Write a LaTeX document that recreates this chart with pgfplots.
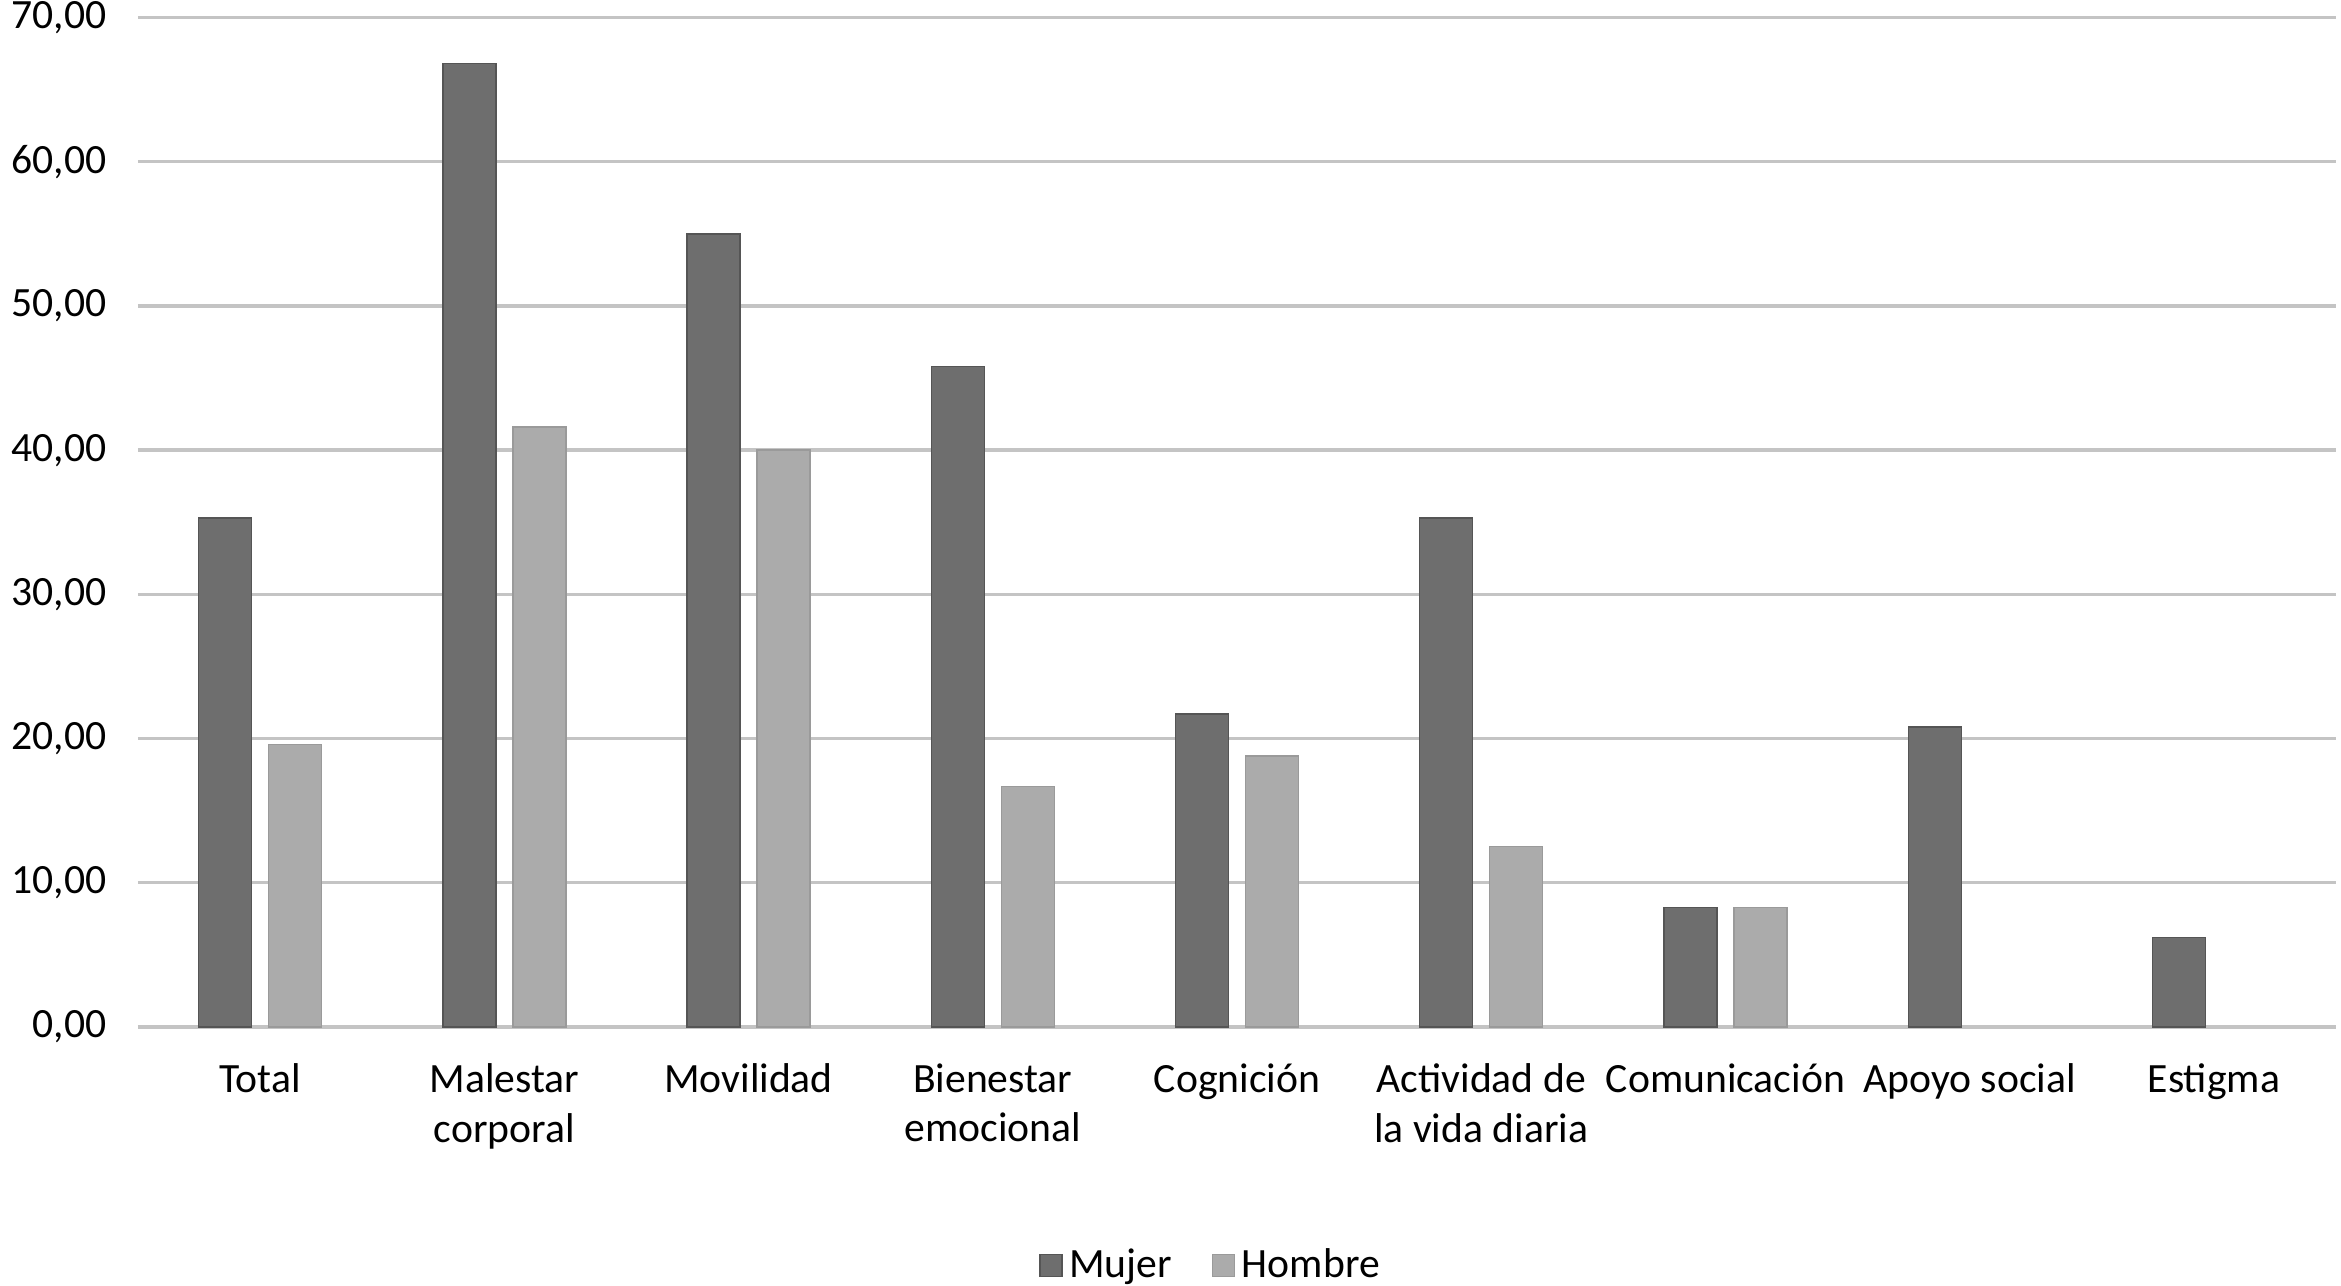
\documentclass[border=0pt]{standalone}
\usepackage{fontspec}
\setmainfont{Carlito}
\usepackage{pgfplots}
\pgfplotsset{compat=1.18}
\definecolor{mujer}{HTML}{6E6E6E}
\definecolor{mujeredge}{HTML}{555555}
\definecolor{hombre}{HTML}{ABABAB}
\definecolor{hombreedge}{HTML}{9A9A9A}
\definecolor{gridgray}{HTML}{C4C4C4}
\begin{document}
\begin{tikzpicture}
\useasboundingbox (-41.4pt,-77.7pt) rectangle (660.9pt,308.1pt);
\begin{axis}[
    scale only axis,
    width=659.4pt, height=302.85pt,
    ybar=5.1pt, bar width=15.9pt,
    xmin=-0.5, xmax=8.5,
    ymin=0, ymax=70,
    ytick={0,10,...,70},
    xtick={0,...,8},
    xticklabels={Total, Malestar\\corporal, Movilidad, Bienestar\\emocional, Cognición, Actividad de\\la vida diaria, Comunicación, Apoyo social, Estigma},
    xticklabel style={align=center, anchor=north, yshift=-7.5pt, font=\fontsize{12.5}{14.8}\selectfont},
    yticklabel style={font=\fontsize{12.5}{13.6}\selectfont, xshift=-6pt},
    /pgf/number format/.cd, fixed, fixed zerofill, precision=2, use comma, assume math mode=true,
    /pgfplots/.cd,
    axis line style={draw=none},
    major tick length=0pt,
    ymajorgrids=true,
    grid style={gridgray, line width=1pt},
    legend style={at={(0.489,-0.236)}, anchor=center, draw=none, fill=none,
        legend columns=2, font=\fontsize{12.5}{13.6}\selectfont,
        /tikz/every even column/.append style={column sep=10pt}},
    legend image code/.code={\fill[#1] (0pt,-3.3pt) rectangle (6.6pt,3.3pt);},
]
\addplot[fill=mujer, draw=mujeredge] coordinates {
    (0,35.3)(1,66.8)(2,55.0)(3,45.8)(4,21.7)(5,35.3)(6,8.3)(7,20.8)(8,6.2)
};
\addplot[fill=hombre, draw=hombreedge] coordinates {
    (0,19.6)(1,41.6)(2,40.0)(3,16.7)(4,18.8)(5,12.5)(6,8.3)
};
\legend{Mujer, Hombre}
\end{axis}
\end{tikzpicture}
\end{document}
